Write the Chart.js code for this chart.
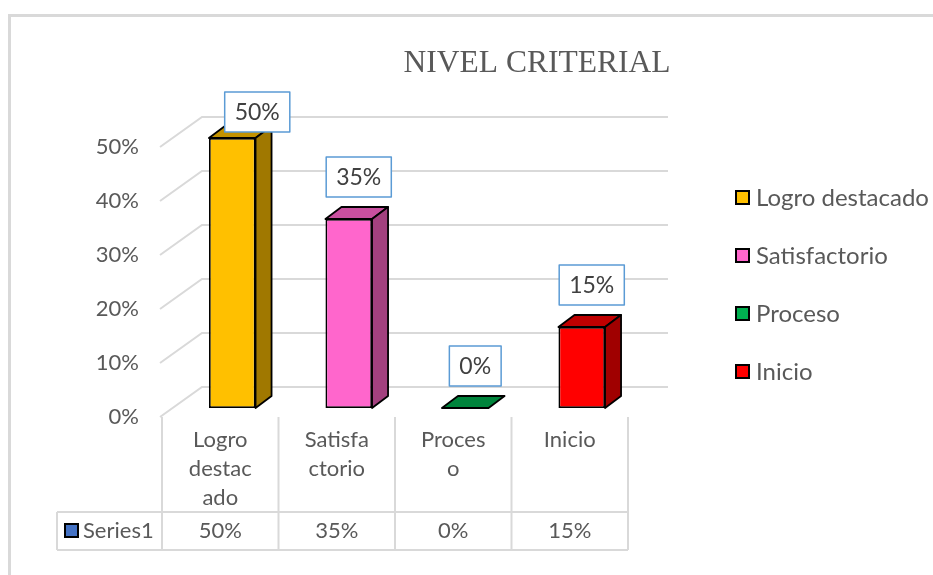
<!DOCTYPE html>
<html>
<head>
<meta charset="utf-8">
<script src="https://cdn.jsdelivr.net/npm/chart.js@4"></script>
<style>
  body { margin: 0; background: #fff; }
</style>
</head>
<body>
<canvas id="chart" width="933" height="575"></canvas>
<script>
// data
const categories = ['Logro destacado', 'Satisfactorio', 'Proceso', 'Inicio'];
const tickLabels = [['Logro', 'destac', 'ado'], ['Satisfa', 'ctorio'], ['Proces', 'o'], ['Inicio']];
const values = [0.50, 0.35, 0.00, 0.15];
const valueLabels = ['50%', '35%', '0%', '15%'];
const yTicks = [0, 0.1, 0.2, 0.3, 0.4, 0.5];
const seriesName = 'Series1';
const chartTitle = 'NIVEL CRITERIAL';

const frontColors = ['#FFC000', '#FF66CC', '#00B050', '#FF0000'];
const topColors = ['#C39200', '#C9509F', '#00843C', '#C00000'];
const sideColors = ['#A07800', '#A3417F', '#006B30', '#A00000'];

const FONT = 'Lato, "Open Sans", sans-serif';
const textGrey = '#595959';
const gridGrey = '#D9D9D9';

// oblique projection offsets, relative to the plane the bars stand in
const depth = { x: 16, y: 12 };
const wall = { x: 28, y: -21 };
const front = { x: -12, y: 9 };

const scene = {
  id: 'scene',
  beforeDatasetsDraw(chart) {
    const { ctx, chartArea: a, scales: { x, y } } = chart;
    ctx.save();

    // chart frame
    ctx.strokeStyle = gridGrey;
    ctx.lineWidth = 3;
    ctx.beginPath();
    ctx.moveTo(9.5, 580);
    ctx.lineTo(9.5, 15.5);
    ctx.lineTo(940, 15.5);
    ctx.stroke();

    // title
    ctx.fillStyle = textGrey;
    ctx.font = '31.5px "Liberation Serif", "Times New Roman", serif';
    ctx.textAlign = 'center';
    ctx.textBaseline = 'alphabetic';
    ctx.fillText(chartTitle, 537, 72);

    // walls
    ctx.strokeStyle = gridGrey;
    ctx.lineWidth = 2;
    ctx.font = '22px ' + FONT;
    ctx.textAlign = 'right';
    ctx.textBaseline = 'middle';
    yTicks.forEach(v => {
      const py = y.getPixelForValue(v);
      ctx.beginPath();
      ctx.moveTo(a.left + front.x - 2, py + front.y);
      ctx.lineTo(a.left + wall.x, py + wall.y);
      ctx.lineTo(a.right + wall.x, py + wall.y);
      ctx.stroke();
      ctx.fillText(Math.round(v * 100) + '%', a.left - 35, py + front.y);
    });

    // data table
    const step = x.getPixelForValue(1) - x.getPixelForValue(0);
    const top = a.bottom + front.y;
    const rowY = top + 95;
    const bottom = top + 133;
    const edges = categories.map((c, i) => x.getPixelForValue(i) - step / 2 + front.x);
    edges.push(x.getPixelForValue(categories.length - 1) + step / 2 + front.x);
    const cellLeft = 57;

    ctx.beginPath();
    edges.forEach(ex => {
      ctx.moveTo(ex, top);
      ctx.lineTo(ex, bottom);
    });
    ctx.moveTo(cellLeft, rowY);
    ctx.lineTo(edges[edges.length - 1], rowY);
    ctx.moveTo(cellLeft, bottom);
    ctx.lineTo(edges[edges.length - 1], bottom);
    ctx.moveTo(cellLeft, rowY);
    ctx.lineTo(cellLeft, bottom);
    ctx.stroke();

    ctx.fillStyle = textGrey;
    ctx.textAlign = 'center';
    tickLabels.forEach((lines, i) => {
      const cx = x.getPixelForValue(i) + front.x;
      lines.forEach((t, k) => ctx.fillText(t, cx, top + 23 + k * 29));
      ctx.fillText(valueLabels[i], cx, (rowY + bottom) / 2);
    });

    // series key
    ctx.fillStyle = '#4472C4';
    ctx.fillRect(65, 524, 13, 13);
    ctx.strokeStyle = '#000';
    ctx.lineWidth = 2;
    ctx.strokeRect(65, 524, 13, 13);
    ctx.fillStyle = textGrey;
    ctx.textAlign = 'left';
    ctx.fillText(seriesName, 83, (rowY + bottom) / 2);

    // legend
    ctx.font = '24px ' + FONT;
    categories.forEach((c, i) => {
      const ly = 198 + i * 58;
      ctx.fillStyle = frontColors[i];
      ctx.fillRect(736, ly - 7, 13, 13);
      ctx.strokeStyle = '#000';
      ctx.lineWidth = 2;
      ctx.strokeRect(736, ly - 7, 13, 13);
      ctx.fillStyle = textGrey;
      ctx.fillText(c, 756, ly);
    });

    ctx.restore();
  },
  afterDatasetsDraw(chart) {
    const { ctx } = chart;
    const meta = chart.getDatasetMeta(0);
    ctx.save();
    ctx.lineJoin = 'round';
    ctx.strokeStyle = '#000';
    ctx.lineWidth = 1.8;
    meta.data.forEach((bar, i) => {
      const { x, y, base, width } = bar.getProps(['x', 'y', 'base', 'width'], true);
      const l = x - width / 2, r = x + width / 2;
      // top face
      ctx.beginPath();
      ctx.moveTo(l, y);
      ctx.lineTo(l + depth.x, y - depth.y);
      ctx.lineTo(r + depth.x, y - depth.y);
      ctx.lineTo(r, y);
      ctx.closePath();
      ctx.fillStyle = topColors[i];
      ctx.fill();
      ctx.stroke();
      // side face
      if (base - y > 0.5) {
        ctx.beginPath();
        ctx.moveTo(r, y);
        ctx.lineTo(r + depth.x, y - depth.y);
        ctx.lineTo(r + depth.x, base - depth.y);
        ctx.lineTo(r, base);
        ctx.closePath();
        ctx.fillStyle = sideColors[i];
        ctx.fill();
        ctx.stroke();
      }
    });

    // data labels
    ctx.font = '23px ' + FONT;
    ctx.textAlign = 'center';
    ctx.textBaseline = 'middle';
    meta.data.forEach((bar, i) => {
      const { x, y } = bar.getProps(['x', 'y'], true);
      const t = valueLabels[i];
      const w = ctx.measureText(t).width + 20;
      const h = 40;
      let cx = x + 10;
      let by = y - depth.y - 10;
      if (by - h < 92) {
        by = 92 + h;
        cx = x + 25;
      }
      ctx.fillStyle = '#fff';
      ctx.fillRect(cx - w / 2, by - h, w, h);
      ctx.strokeStyle = '#5B9BD5';
      ctx.lineWidth = 1.5;
      ctx.strokeRect(cx - w / 2, by - h, w, h);
      ctx.fillStyle = '#404040';
      ctx.fillText(t, cx, by - h / 2 + 1);
    });
    ctx.restore();
  }
};

new Chart(document.getElementById('chart'), {
  type: 'bar',
  data: {
    labels: categories,
    datasets: [{
      label: seriesName,
      data: values,
      backgroundColor: frontColors,
      borderColor: '#000',
      borderWidth: 1.8,
      borderSkipped: false,
      categoryPercentage: 0.5,
      barPercentage: 0.8
    }]
  },
  options: {
    responsive: false,
    animation: false,
    layout: {
      padding: { left: 174, right: 293, top: 138, bottom: 167 }
    },
    scales: {
      x: { display: false },
      y: { display: false, min: 0, max: 0.5 }
    },
    plugins: {
      legend: { display: false },
      tooltip: { enabled: false }
    }
  },
  plugins: [scene]
});
</script>
</body>
</html>
